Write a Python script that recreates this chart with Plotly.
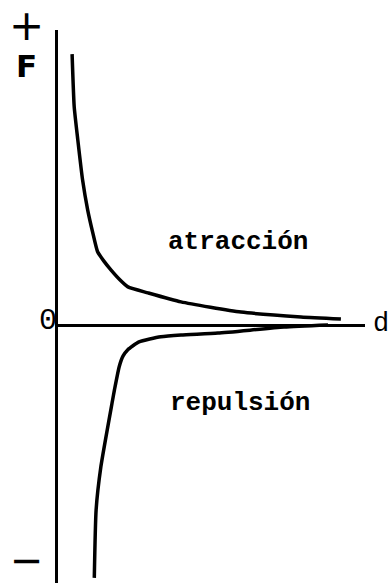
import plotly.graph_objects as go

# Attraction branch (upper curve): distance d and force F (arbitrary units)
d_attr = [0.47, 0.54, 0.66, 0.82, 0.99, 1.16, 1.32, 1.53, 1.77, 2.07, 2.33, 3.0, 4.1, 6.1, 8.1, 9.43]
F_attr = [9.03, 7.28, 6.17, 4.83, 3.83, 3.07, 2.44, 2.13, 1.83, 1.50, 1.27, 1.07, 0.77, 0.43, 0.27, 0.20]

# Repulsion branch (lower curve)
d_rep = [1.21, 1.27, 1.43, 1.82, 1.88, 2.04, 2.17, 2.32, 2.70, 3.43, 4.10, 5.33, 7.53, 9.0]
F_rep = [-8.43, -6.17, -4.72, -2.50, -2.17, -1.39, -1.03, -0.83, -0.56, -0.39, -0.33, -0.27, -0.07, 0.0]

# Labels
label_attr = "atracción"
label_rep = "repulsión"
label_x = "d"
label_y = "F"
label_zero = "0"
label_plus = "+"
label_minus = "−"

W, H = 388, 583
ML, MR, MT, MB = 58, 23, 30, 0

fig = go.Figure()
fig.add_trace(go.Scatter(x=d_attr, y=F_attr, mode="lines",
                         line=dict(color="black", width=3.5, shape="spline", smoothing=0.5),
                         hoverinfo="skip"))
fig.add_trace(go.Scatter(x=d_rep, y=F_rep, mode="lines",
                         line=dict(color="black", width=3.5, shape="spline", smoothing=0.5),
                         hoverinfo="skip"))

pw, ph = W - ML - MR, H - MT - MB
SC = 30.0  # pixels per unit
ZERO_PX = 325


def px(x):
    return (x - ML) / pw


def py(y):
    return (H - MB - y) / ph


mono = "Liberation Mono"
sans = "DejaVu Sans"
ann = [
    dict(text=label_plus, x=px(26), y=py(25), font=dict(family=sans, size=42, color="black")),
    dict(text="<b>" + label_y + "</b>", x=px(26.5), y=py(66.5), font=dict(family=sans, size=31, color="black")),
    dict(text=label_zero, x=px(47.5), y=py(321), font=dict(family=mono, size=30, color="black")),
    dict(text=label_x, x=px(381), y=py(324), font=dict(family=mono, size=27, color="black")),
    dict(text="<b>" + label_attr + "</b>", x=px(238), y=py(242), font=dict(family=mono, size=26, color="black")),
    dict(text="<b>" + label_rep + "</b>", x=px(240), y=py(403), font=dict(family=mono, size=26, color="black")),
    dict(text=label_minus, x=px(27), y=py(560), font=dict(family=sans, size=40, color="black")),
]
for a in ann:
    a.update(xref="paper", yref="paper", showarrow=False, xanchor="center", yanchor="middle")

fig.update_layout(
    width=W, height=H,
    margin=dict(l=ML, r=MR, t=MT, b=MB),
    paper_bgcolor="white", plot_bgcolor="white",
    showlegend=False,
    annotations=ann,
    xaxis=dict(range=[0, pw / SC], showgrid=False, zeroline=False, showticklabels=False,
               ticks="", showline=False),
    yaxis=dict(range=[(ZERO_PX - (H - MB)) / SC, (ZERO_PX - MT) / SC], showgrid=False,
               zeroline=True, zerolinecolor="black", zerolinewidth=3,
               showticklabels=False, ticks="", showline=True, linecolor="black", linewidth=3),
)

fig.write_html("out.html", config={"displayModeBar": False},
               post_script="document.body.style.margin='0';document.body.style.overflow='hidden';")
